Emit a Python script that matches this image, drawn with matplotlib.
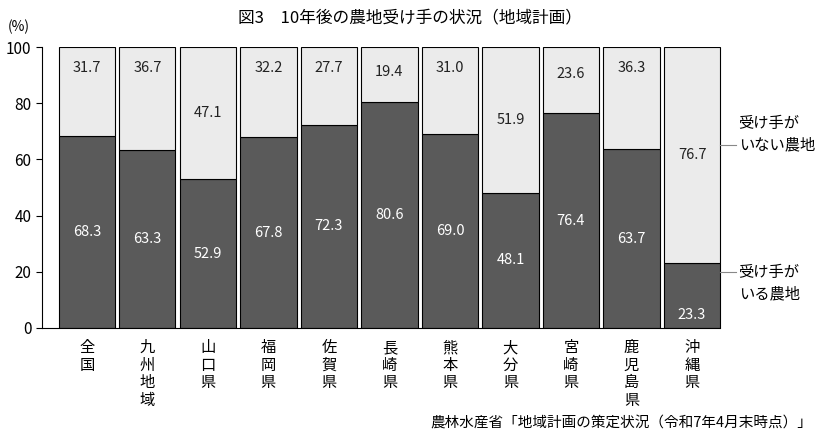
import matplotlib.pyplot as plt

plt.rcParams['font.family'] = ['Noto Sans CJK JP', 'DejaVu Sans']

regions = ['全国', '九州地域', '山口県', '福岡県', '佐賀県', '長崎県', '熊本県', '大分県', '宮崎県', '鹿児島県', '沖縄県']
with_heir = [68.3, 63.3, 52.9, 67.8, 72.3, 80.6, 69.0, 48.1, 76.4, 63.7, 23.3]
without_heir = [31.7, 36.7, 47.1, 32.2, 27.7, 19.4, 31.0, 51.9, 23.6, 36.3, 76.7]

fig = plt.figure(figsize=(8.2, 4.43), dpi=100)
ax = fig.add_axes([42 / 820, 1 - 328 / 443, 690 / 820, 281 / 443])

x = list(range(len(regions)))
ax.bar(x, with_heir, width=0.93, color='#5a5a5a', edgecolor='black', linewidth=0.8)
ax.bar(x, without_heir, bottom=with_heir, width=0.93, color='#ebebeb', edgecolor='black', linewidth=0.8)

for i in x:
    ax.text(i, with_heir[i] / 2 if i != 10 else with_heir[i] / 2 - 7, f'{with_heir[i]:.1f}',
            ha='center', va='center', color='white', fontsize=10.5)
    top = with_heir[i] + without_heir[i] / 2
    if i in (0, 1, 3, 4, 6, 9):
        top = 92.5
    elif i == 5:
        top = 91
    elif i == 8:
        top = 90.5
    ax.text(i, top, f'{without_heir[i]:.1f}', ha='center', va='center', color='#222222', fontsize=10.5)

ax.set_xlim(-0.74, 10.66)
ax.set_ylim(0, 100)
ax.set_yticks(range(0, 101, 20))
ax.tick_params(axis='y', labelsize=11, length=4)
ax.set_xticks(x)
ax.set_xticklabels(['\n'.join(r) for r in regions], fontsize=11, va='top', linespacing=1.05)
ax.tick_params(axis='x', length=0, pad=8)
for s in ('top', 'right'):
    ax.spines[s].set_visible(False)
ax.spines['bottom'].set_bounds(-0.74, 10.47)

# right-side labels
ax.plot([10.47, 10.72], [65, 65], color='#888888', lw=0.8, clip_on=False)
ax.text(10.77, 69, '受け手が\nいない農地', fontsize=11, va='center', ha='left', linespacing=1.3)
ax.plot([10.47, 10.72], [20, 20], color='#888888', lw=0.8, clip_on=False)
ax.text(10.77, 16, '受け手が\nいる農地', fontsize=11, va='center', ha='left', linespacing=1.3)

fig.text(0.5, 1 - 18 / 443, '図3　10年後の農地受け手の状況（地域計画）', ha='center', va='center', fontsize=12)
fig.text(8 / 820, 1 - 27 / 443, '(%)', fontsize=10, va='center')
fig.text(812 / 820, 1 - 424 / 443, '農林水産省「地域計画の策定状況（令和7年4月末時点）」', ha='right', va='center', fontsize=10.5)

fig.savefig('out.png', dpi=100)
